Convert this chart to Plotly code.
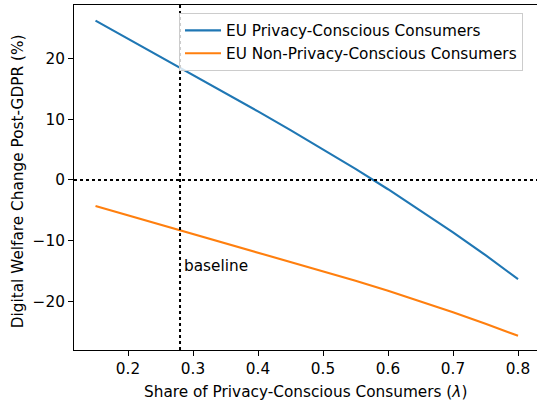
import plotly.graph_objects as go

# Share of privacy-conscious consumers (lambda)
lam = [0.15, 0.20, 0.25, 0.28, 0.30, 0.35, 0.40, 0.45, 0.50, 0.55, 0.60, 0.65, 0.70, 0.75, 0.80]

# Digital welfare change post-GDPR (%) for each consumer group
privacy_conscious = [26.20, 23.22, 20.25, 18.47, 17.28, 14.30, 11.27, 8.20, 5.05, 1.82,
                     -1.52, -4.99, -8.60, -12.36, -16.30]
non_privacy_conscious = [-4.28, -5.81, -7.32, -8.22, -8.82, -10.32, -11.84, -13.37, -14.94, -16.55,
                         -18.22, -19.94, -21.74, -23.63, -25.60]

baseline_share = 0.28
baseline_label = "baseline"
baseline_label_y = -14.1

x_ticks = [0.2, 0.3, 0.4, 0.5, 0.6, 0.7, 0.8]
x_tick_text = ["0.2", "0.3", "0.4", "0.5", "0.6", "0.7", "0.8"]
y_ticks = [-20, -10, 0, 10, 20]
y_tick_text = ["\u221220", "\u221210", "0", "10", "20"]

FONT = "DejaVu Sans"
FS = 15.3
BLUE = "#1f77b4"
ORANGE = "#ff7f0e"

fig = go.Figure()
fig.add_trace(go.Scatter(x=lam, y=privacy_conscious, mode="lines",
                         name="EU Privacy-Conscious Consumers",
                         line=dict(color=BLUE, width=2.1)))
fig.add_trace(go.Scatter(x=lam, y=non_privacy_conscious, mode="lines",
                         name="EU Non-Privacy-Conscious Consumers",
                         line=dict(color=ORANGE, width=2.1)))

# Reference lines: zero change and baseline share
fig.add_shape(type="line", xref="paper", yref="y", x0=0, x1=1, y0=0, y1=0,
              line=dict(color="black", width=2, dash="dot"), layer="above")
fig.add_shape(type="line", xref="x", yref="paper", x0=baseline_share, x1=baseline_share,
              y0=0, y1=1, line=dict(color="black", width=2, dash="dot"), layer="above")

fig.add_annotation(x=baseline_share + 0.003, y=baseline_label_y, xref="x", yref="y",
                   text=baseline_label, showarrow=False, xanchor="left", yanchor="middle",
                   font=dict(family=FONT, size=FS, color="black"))

# Axis titles
fig.add_annotation(x=0.5, y=-0.121, xref="paper", yref="paper",
                   text="Share of Privacy-Conscious Consumers (<i>\u03bb</i>)",
                   showarrow=False, xanchor="center", yanchor="middle",
                   font=dict(family=FONT, size=FS, color="black"))
fig.add_annotation(x=-0.1203, y=0.49, xref="paper", yref="paper",
                   text="Digital Welfare Change Post-GDPR (%)", textangle=-90,
                   showarrow=False, xanchor="center", yanchor="middle",
                   font=dict(family=FONT, size=FS, color="black"))

fig.update_layout(
    width=537, height=407,
    margin=dict(l=74, r=0, t=5, b=57),
    paper_bgcolor="white", plot_bgcolor="white",
    font=dict(family=FONT, size=FS, color="black"),
    legend=dict(x=0.2268, y=0.977, xanchor="left", yanchor="top",
                bgcolor="rgba(255,255,255,0.8)", bordercolor="#cccccc", borderwidth=1,
                font=dict(family=FONT, size=FS, color="black"), itemwidth=36),
    xaxis=dict(range=[0.1169, 0.8292], tickvals=x_ticks, ticktext=x_tick_text,
               showgrid=False, zeroline=False, showline=True, linecolor="black",
               linewidth=1.1, mirror=True, ticks="outside", ticklen=5, tickwidth=1.1,
               tickcolor="black", tickfont=dict(family=FONT, size=FS, color="black")),
    yaxis=dict(range=[-27.94, 28.76], tickvals=y_ticks, ticktext=y_tick_text,
               showgrid=False, zeroline=False, showline=True, linecolor="black",
               linewidth=1.1, mirror=False, ticks="outside", ticklen=5, tickwidth=1.1,
               tickcolor="black", tickfont=dict(family=FONT, size=FS, color="black")),
)

fig.write_html("out.html")
